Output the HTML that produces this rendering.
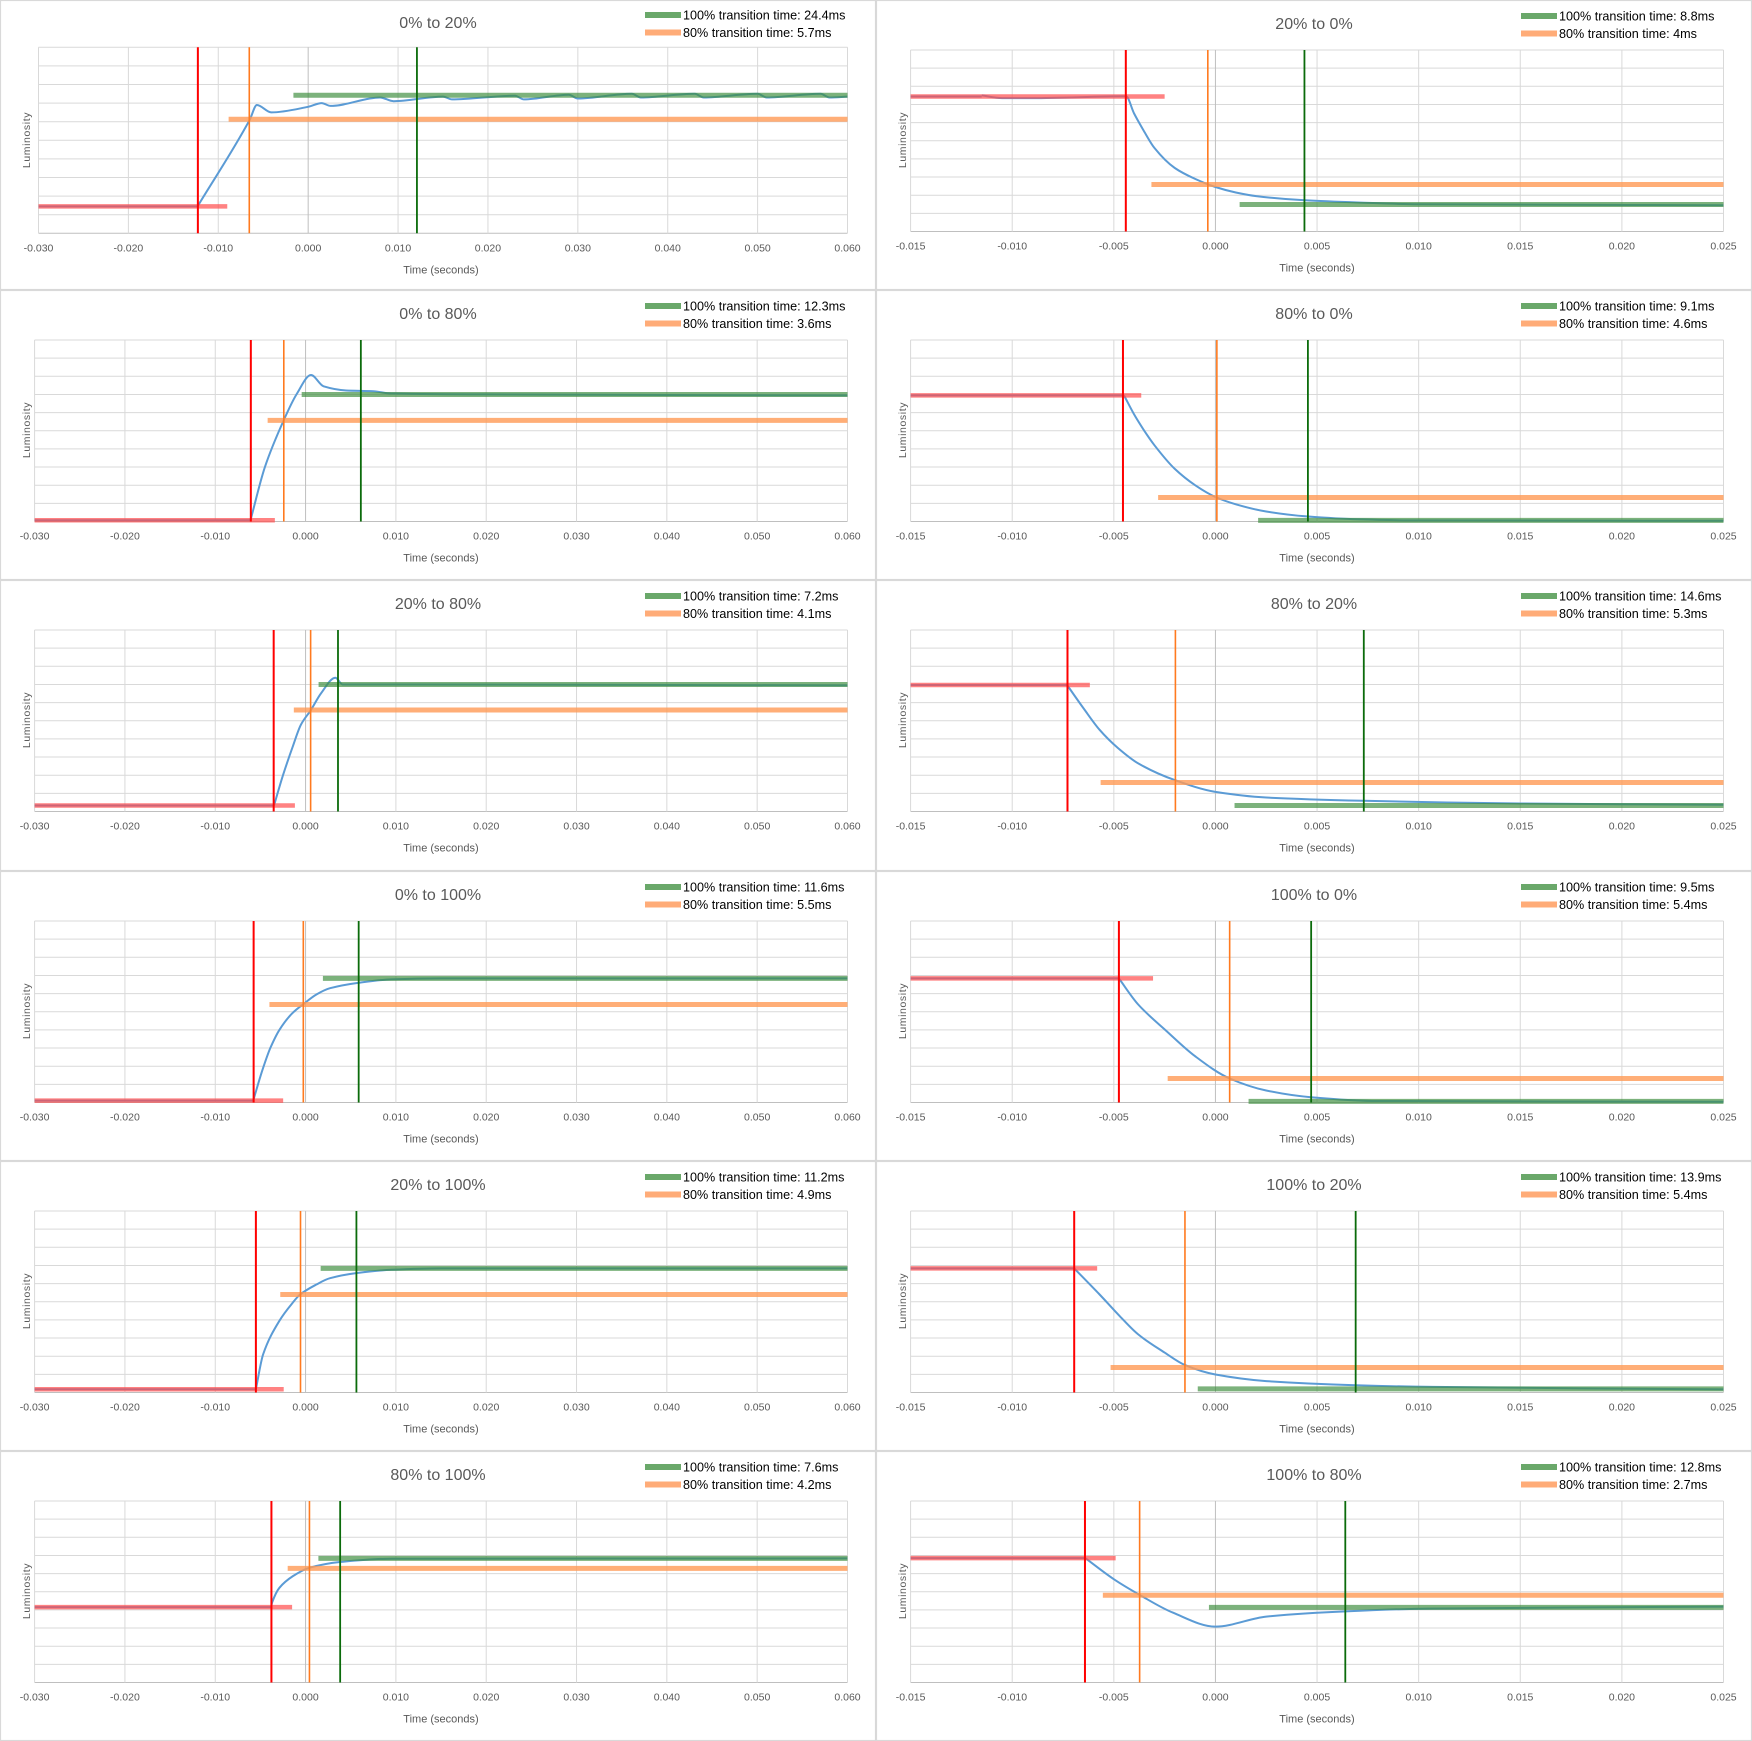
<!DOCTYPE html>
<html><head><meta charset="utf-8"><title>Transition charts</title>
<style>
html,body{margin:0;padding:0;background:#fff;}
svg{display:block;font-family:"Liberation Sans",sans-serif;}
</style></head>
<body>
<svg id="root" width="1752" height="1741" viewBox="0 0 1752 1741" xmlns="http://www.w3.org/2000/svg"></svg>
<script>
const titles = ["0% to 20%","20% to 0%","0% to 80%","80% to 0%","20% to 80%","80% to 20%","0% to 100%","100% to 0%","20% to 100%","100% to 20%","80% to 100%","100% to 80%"];
const legend100 = ["24.4","8.8","12.3","9.1","7.2","14.6","11.6","9.5","11.2","13.9","7.6","12.8"];
const legend80 = ["5.7","4","3.6","4.6","4.1","5.3","5.5","5.4","4.9","5.4","4.2","2.7"];
const startLevels = [1.45,7.44,0.07,6.95,0.33,6.97,0.1,6.84,0.18,6.84,4.15,6.85];
const greenLevels = [7.42,1.49,7.0,0.06,7.0,0.33,6.84,0.06,6.84,0.2,6.84,4.14];
const orangeLevels = [6.13,2.59,5.57,1.32,5.59,1.6,5.4,1.32,5.4,1.38,6.29,4.81];
const redTimes = [-0.01227,-0.00441,-0.00606,-0.00455,-0.00353,-0.00728,-0.00575,-0.00475,-0.0055,-0.00695,-0.00378,-0.00642];
const orangeTimes = [-0.00655,-0.000375,-0.00241,0.00007,0.00056,-0.00197,-0.00025,0.0007,-0.00056,-0.0015,0.00043,-0.00373];
const greenTimes = [0.0121,0.00438,0.00612,0.00455,0.00359,0.0073,0.00588,0.00471,0.00563,0.0069,0.00383,0.00639];
const redBarEnds = [-0.009,-0.0025,-0.0034,-0.00365,-0.00118,-0.00618,-0.00248,-0.00307,-0.00242,-0.00582,-0.00149,-0.00491];
const orangeBarStarts = [-0.00885,-0.00315,-0.0042,-0.00282,-0.0013,-0.00565,-0.004,-0.00235,-0.0028,-0.00516,-0.00198,-0.00554];
const greenBarStarts = [-0.00164,0.00119,-0.00043,0.0021,0.00144,0.00094,0.00192,0.00163,0.00167,-0.00087,0.00142,-0.00032];
const curveTimes = [
 [-0.0123,-0.0065,-0.0057,-0.0041,0.0,0.0015,0.0025,0.008,0.0095,0.015,0.016,0.023,0.024,0.029,0.030,0.036,0.037,0.043,0.044,0.050,0.051,0.057,0.058,0.060],
 [-0.0115,-0.0105,-0.009,-0.0044,-0.004,-0.0035,-0.003,-0.002,-0.001,0,0.001,0.002,0.0044,0.007,0.01,0.025],
 [-0.0061,-0.0045,-0.0024,-0.001,0.0006,0.002,0.0045,0.0075,0.0095,0.02,0.06],
 [-0.0045,-0.004,-0.0035,-0.003,-0.002,-0.001,0,0.001,0.0025,0.0045,0.007,0.01,0.025],
 [-0.0035,-0.0025,-0.0014,-0.0005,0.0006,0.0017,0.0033,0.0041,0.01,0.06],
 [-0.0073,-0.0065,-0.0057,-0.0048,-0.0038,-0.002,0,0.0025,0.0073,0.015,0.025],
 [-0.0058,-0.0048,-0.0039,-0.0029,-0.0015,-0.0003,0.0012,0.0027,0.0059,0.0095,0.015,0.06],
 [-0.00475,-0.0038,-0.0024,-0.001,0.0007,0.0025,0.0047,0.008,0.025],
 [-0.0055,-0.0047,-0.0029,-0.0015,-0.0006,0.0012,0.0027,0.0056,0.0095,0.015,0.06],
 [-0.00695,-0.0057,-0.0047,-0.0038,-0.0025,-0.0015,0,0.0025,0.0069,0.0107,0.025],
 [-0.0038,-0.0037,-0.0029,-0.0014,0.0004,0.0038,0.0095,0.06],
 [-0.0064,-0.005,-0.0037,-0.0021,0,0.0025,0.0064,0.0105,0.025]
];
const curveLums = [
 [1.45,6.1,6.9,6.5,6.8,7.0,6.85,7.3,7.1,7.35,7.2,7.4,7.2,7.45,7.25,7.5,7.3,7.5,7.3,7.5,7.3,7.5,7.3,7.35],
 [7.5,7.35,7.35,7.45,6.5,5.5,4.6,3.5,2.9,2.45,2.15,1.95,1.72,1.6,1.5,1.45],
 [0.07,3.0,5.6,7.0,8.07,7.45,7.22,7.18,7.05,7.0,6.95],
 [6.95,5.9,5.0,4.2,2.9,2.0,1.35,0.95,0.55,0.28,0.12,0.06,0.04],
 [0.33,2.0,3.6,4.8,5.6,6.5,7.37,7.0,7.0,6.95],
 [6.97,5.7,4.5,3.5,2.65,1.73,1.08,0.77,0.59,0.44,0.37],
 [0.1,1.75,3.0,4.0,4.9,5.4,5.95,6.3,6.6,6.78,6.84,6.84],
 [6.84,5.4,3.93,2.55,1.32,0.66,0.29,0.08,0.04],
 [0.18,2.1,3.95,4.9,5.4,5.95,6.3,6.58,6.76,6.84,6.84],
 [6.84,5.4,4.2,3.2,2.2,1.51,0.99,0.63,0.40,0.31,0.17],
 [4.15,4.4,5.22,5.86,6.32,6.64,6.82,6.84],
 [6.85,5.69,4.81,3.85,3.08,3.63,3.92,4.07,4.18]
];
const leftTicks = [-0.03,-0.02,-0.01,0,0.01,0.02,0.03,0.04,0.05,0.06];
const rightTicks = [-0.015,-0.01,-0.005,0,0.005,0.01,0.015,0.02,0.025];

const NS="http://www.w3.org/2000/svg";
const root=document.getElementById('root');
function mk(tag,attrs,parent){const e=document.createElementNS(NS,tag);for(const k in attrs)e.setAttribute(k,attrs[k]);(parent||root).appendChild(e);return e;}
function fmt(v){const s=Math.abs(v).toFixed(3);return (v<-1e-9?"-":"")+s;}
function monoPath(P){
  const n=P.length;if(n<3)return P.map((p,j)=>(j?'L':'M')+p[0].toFixed(1)+' '+p[1].toFixed(1)).join(' ');
  const d=[],m=new Array(n);
  for(let k=0;k<n-1;k++)d.push((P[k+1][1]-P[k][1])/(P[k+1][0]-P[k][0]));
  m[0]=d[0];m[n-1]=d[n-2];
  for(let k=1;k<n-1;k++){m[k]=(d[k-1]*d[k]<=0)?0:2/(1/d[k-1]+1/d[k]);}
  m[0]=0; // keep flat start corner
  let s='M'+P[0][0].toFixed(1)+' '+P[0][1].toFixed(1);
  for(let k=0;k<n-1;k++){
    const h=P[k+1][0]-P[k][0];
    let m0=m[k],m1=m[k+1];
    if(k===0){m0=d[0];}
    s+=' C'+(P[k][0]+h/3).toFixed(1)+' '+(P[k][1]+m0*h/3).toFixed(1)+' '+(P[k+1][0]-h/3).toFixed(1)+' '+(P[k+1][1]-m1*h/3).toFixed(1)+' '+P[k+1][0].toFixed(1)+' '+P[k+1][1].toFixed(1);
  }
  return s;
}

for(let i=0;i<12;i++){
  const col=i%2,row=Math.floor(i/2);
  const px=col*876, py=Math.round(row*290.2);
  const ph=(row===5?1741:Math.round((row+1)*290.2))-py;
  const ticks=col===0?leftTicks:rightTicks;
  const xmin=ticks[0],xmax=ticks[ticks.length-1];
  const L=px+(i===0?38.5:34.6), R=px+847.5, T=py+(i===0?47.3:50), B=py+(i===0?233.3:231.5);
  const X=t=>L+(t-xmin)/(xmax-xmin)*(R-L);
  const Y=v=>B-v/10*(B-T);
  const g=mk('g',{});
  
  
  const frame=mk('rect',{x:px+0.5,y:py+0.5,width:875,height:ph-1,fill:'#fff',stroke:'#d9d9d9','stroke-width':1.2},g);
  
  
  for(let k=0;k<=10;k++){
    const hl=mk('line',{x1:L,x2:R,y1:Y(k),y2:Y(k),stroke:k===0?'#bfbfbf':'#d9d9d9','stroke-width':1},g);
    
    
  }
  ticks.forEach(t=>{
    const vl=mk('line',{x1:X(t),x2:X(t),y1:T,y2:B,stroke:Math.abs(t)<1e-9?'#bfbfbf':'#d9d9d9','stroke-width':1},g);
    
    
    const tl=mk('text',{x:X(t),y:B+18,'text-anchor':'middle','font-size':10.5,fill:'#595959'},g);
    tl.textContent=fmt(t);
    
    
  });
  const flat=mk('line',{x1:X(xmin),x2:X(curveTimes[i][0]),y1:Y(startLevels[i]),y2:Y(startLevels[i]),stroke:'#5b9bd5','stroke-width':2},g);
  
  
  const pts=curveTimes[i].map((t,j)=>[X(t),Y(curveLums[i][j])]);
  const cv=mk('path',{d:monoPath(pts),fill:'none',stroke:'#5b9bd5','stroke-width':2,'stroke-linejoin':'round'},g);
  
  
  const rb=mk('line',{x1:X(xmin),x2:X(redBarEnds[i]),y1:Y(startLevels[i]),y2:Y(startLevels[i]),stroke:'#ff4d4d','stroke-opacity':0.7,'stroke-width':4.5},g);
  
  
  const ob=mk('line',{x1:X(orangeBarStarts[i]),x2:X(xmax),y1:Y(orangeLevels[i]),y2:Y(orangeLevels[i]),stroke:'#ff9a55','stroke-opacity':0.8,'stroke-width':5},g);
  
  
  const gb=mk('line',{x1:X(greenBarStarts[i]),x2:X(xmax),y1:Y(greenLevels[i]),y2:Y(greenLevels[i]),stroke:'#3e8e3e','stroke-opacity':0.68,'stroke-width':5},g);
  
  
  const rv=mk('line',{x1:X(redTimes[i]),x2:X(redTimes[i]),y1:T,y2:B,stroke:'#ff0000','stroke-width':2},g);
  
  
  const ov=mk('line',{x1:X(orangeTimes[i]),x2:X(orangeTimes[i]),y1:T,y2:B,stroke:'#ff7a1f','stroke-width':1.6},g);
  
  
  const gv=mk('line',{x1:X(greenTimes[i]),x2:X(greenTimes[i]),y1:T,y2:B,stroke:'#0b6b0b','stroke-width':1.8},g);
  
  
  const tt=mk('text',{x:px+438,y:py+(i===0?28:29),'text-anchor':'middle','font-size':16,fill:'#595959'},g);
  tt.textContent=titles[i];
  
  
  const xt=mk('text',{x:px+441,y:B+40,'text-anchor':'middle','font-size':11,fill:'#595959'},g);
  xt.textContent='Time (seconds)';
  
  
  const yx=px+30, yy=py+140;
  const yt=mk('text',{x:yx,y:yy,'text-anchor':'middle','font-size':10.5,fill:'#595959',transform:'rotate(-90 '+yx+' '+yy+')','letter-spacing':'0.6'},g);
  yt.textContent='Luminosity';
  
  
  const ly=py+(i===0?0:1);
  const s1=mk('rect',{x:px+645,y:ly+12,width:36,height:6,fill:'#6aa86a'},g);
  
  
  const l1=mk('text',{x:px+683,y:ly+19.5,'font-size':12.6,fill:'#000'},g);
  l1.textContent='100% transition time: '+legend100[i]+'ms';
  
  
  const s2=mk('rect',{x:px+645,y:ly+29.5,width:36,height:6,fill:'#ffac78'},g);
  
  
  const l2=mk('text',{x:px+683,y:ly+37,'font-size':12.6,fill:'#000'},g);
  l2.textContent='80% transition time: '+legend80[i]+'ms';
  
  
}
</script>
</body></html>
